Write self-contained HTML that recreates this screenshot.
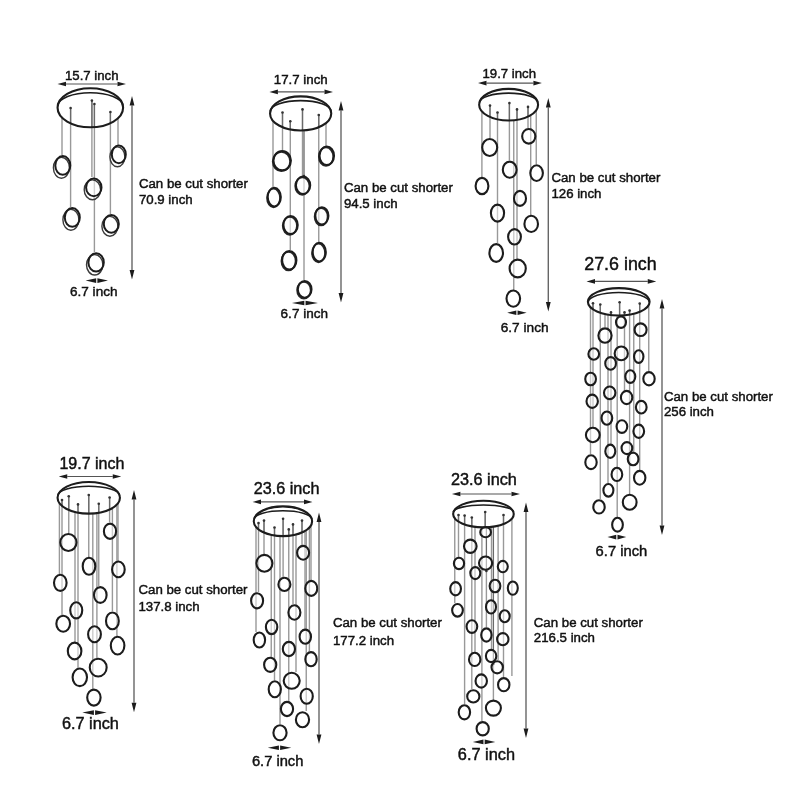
<!DOCTYPE html>
<html><head><meta charset="utf-8"><style>
html,body{margin:0;padding:0;background:#fff;}
svg{display:block;will-change:transform;}
text{font-family:"Liberation Sans", sans-serif;fill:#111;stroke:#111;stroke-width:0.45px;}
</style></head><body>
<svg width="800" height="800" viewBox="0 0 800 800">
<rect width="800" height="800" fill="#fff"/>
<g><line x1="62" y1="117.97" x2="62" y2="155" stroke="#999999" stroke-width="1.4"/><line x1="70.6" y1="108" x2="70.6" y2="207" stroke="#999999" stroke-width="1.4"/><line x1="70.6" y1="108" x2="70.6" y2="123.29" stroke="#6a6a6a" stroke-width="1.3"/><circle cx="70.6" cy="108" r="1.3" fill="#333"/><line x1="91.9" y1="100.6" x2="91.9" y2="177" stroke="#999999" stroke-width="1.4"/><line x1="91.9" y1="100.6" x2="91.9" y2="126.98" stroke="#6a6a6a" stroke-width="1.3"/><circle cx="91.9" cy="100.6" r="1.3" fill="#333"/><line x1="94.4" y1="104" x2="94.4" y2="252" stroke="#999999" stroke-width="1.4"/><line x1="94.4" y1="104" x2="94.4" y2="126.86" stroke="#6a6a6a" stroke-width="1.3"/><circle cx="94.4" cy="104" r="1.3" fill="#333"/><line x1="110.4" y1="112" x2="110.4" y2="214" stroke="#999999" stroke-width="1.4"/><line x1="110.4" y1="112" x2="110.4" y2="123.14" stroke="#6a6a6a" stroke-width="1.3"/><circle cx="110.4" cy="112" r="1.3" fill="#333"/><line x1="118" y1="118.54" x2="118" y2="145" stroke="#999999" stroke-width="1.4"/><ellipse cx="90.33" cy="107.75" rx="32.77" ry="19.5" fill="none" stroke="#1c1c1c" stroke-width="2.1"/><path d="M57.85,105.75 A32.48,13.2 0 0 1 122.8,105.75" fill="none" stroke="#1c1c1c" stroke-width="1.6"/><ellipse cx="61.4" cy="167.8" rx="8" ry="10.4" fill="#fff" fill-opacity="0.55" stroke="#3a3a3a" stroke-width="1.4"/><ellipse cx="62.8" cy="165.4" rx="7.5" ry="9.4" fill="none" stroke="#1c1c1c" stroke-width="2.0"/><ellipse cx="117.4" cy="156.8" rx="7.5" ry="9.9" fill="#fff" fill-opacity="0.55" stroke="#3a3a3a" stroke-width="1.4"/><ellipse cx="118.8" cy="154.4" rx="7" ry="8.9" fill="none" stroke="#1c1c1c" stroke-width="2.0"/><ellipse cx="92.4" cy="189.8" rx="8.2" ry="9.9" fill="#fff" fill-opacity="0.55" stroke="#3a3a3a" stroke-width="1.4"/><ellipse cx="93.8" cy="187.4" rx="7.7" ry="8.9" fill="none" stroke="#1c1c1c" stroke-width="2.0"/><ellipse cx="70.9" cy="219.8" rx="8" ry="10.4" fill="#fff" fill-opacity="0.55" stroke="#3a3a3a" stroke-width="1.4"/><ellipse cx="72.3" cy="217.4" rx="7.5" ry="9.4" fill="none" stroke="#1c1c1c" stroke-width="2.0"/><ellipse cx="109.9" cy="226.3" rx="8" ry="9.9" fill="#fff" fill-opacity="0.55" stroke="#3a3a3a" stroke-width="1.4"/><ellipse cx="111.3" cy="223.9" rx="7.5" ry="8.9" fill="none" stroke="#1c1c1c" stroke-width="2.0"/><ellipse cx="94.7" cy="264.8" rx="8.2" ry="10.2" fill="#fff" fill-opacity="0.55" stroke="#3a3a3a" stroke-width="1.4"/><ellipse cx="96.1" cy="262.4" rx="7.7" ry="9.2" fill="none" stroke="#1c1c1c" stroke-width="2.0"/><line x1="66" y1="84" x2="117.5" y2="84" stroke="#555" stroke-width="1.2"/><path d="M57.5,84 L66,81.7 L66,86.3Z M126,84 L117.5,81.7 L117.5,86.3Z" fill="#1c1c1c"/><text x="65" y="80" font-size="13.2" textLength="53.5" lengthAdjust="spacingAndGlyphs">15.7 inch</text><line x1="132" y1="105.5" x2="132" y2="269.9" stroke="#666" stroke-width="1.4"/><path d="M132,96 L129.6,105.5 L134.4,105.5Z M132,279.4 L129.6,269.9 L134.4,269.9Z" fill="#1c1c1c"/><text x="138.9" y="188" font-size="13.25">Can be cut shorter</text><text x="138.9" y="203.9" font-size="13.25">70.9 inch</text><path d="M85.6,280.6 L96.2,278.3 L96.2,282.9Z M108,280.6 L97.4,278.3 L97.4,282.9Z" fill="#1c1c1c"/><text x="70" y="295.6" font-size="13.56" textLength="47.5" lengthAdjust="spacingAndGlyphs">6.7 inch</text></g>
<g><line x1="273" y1="121.3" x2="273" y2="187" stroke="#999999" stroke-width="1.4"/><line x1="282.5" y1="112.5" x2="282.5" y2="150" stroke="#999999" stroke-width="1.4"/><line x1="282.5" y1="112.5" x2="282.5" y2="127.17" stroke="#6a6a6a" stroke-width="1.3"/><circle cx="282.5" cy="112.5" r="1.3" fill="#333"/><line x1="290.3" y1="121.25" x2="290.3" y2="250" stroke="#999999" stroke-width="1.4"/><line x1="290.3" y1="121.25" x2="290.3" y2="129.35" stroke="#6a6a6a" stroke-width="1.3"/><circle cx="290.3" cy="121.25" r="1.3" fill="#333"/><line x1="302.5" y1="109.4" x2="302.5" y2="176" stroke="#999999" stroke-width="1.4"/><line x1="302.5" y1="109.4" x2="302.5" y2="130.27" stroke="#6a6a6a" stroke-width="1.3"/><circle cx="302.5" cy="109.4" r="1.3" fill="#333"/><line x1="304" y1="176" x2="304" y2="280" stroke="#999999" stroke-width="1.4"/><line x1="304" y1="176" x2="304" y2="130.2" stroke="#6a6a6a" stroke-width="1.3"/><circle cx="304" cy="176" r="1.3" fill="#333"/><line x1="318.75" y1="115" x2="318.75" y2="242" stroke="#999999" stroke-width="1.4"/><line x1="318.75" y1="115" x2="318.75" y2="127.19" stroke="#6a6a6a" stroke-width="1.3"/><circle cx="318.75" cy="115" r="1.3" fill="#333"/><line x1="326" y1="123.3" x2="326" y2="146" stroke="#999999" stroke-width="1.4"/><ellipse cx="300.65" cy="113.45" rx="30.6" ry="17.1" fill="none" stroke="#1c1c1c" stroke-width="2.1"/><path d="M270.35,111.45 A30.3,10.8 0 0 1 330.95,111.45" fill="none" stroke="#1c1c1c" stroke-width="1.6"/><ellipse cx="281.4" cy="161.5" rx="8.7" ry="9.7" fill="#fff" fill-opacity="0.55" stroke="#2a2a2a" stroke-width="1.7"/><ellipse cx="282.2" cy="160.6" rx="8.75" ry="9.7" fill="none" stroke="#1c1c1c" stroke-width="2.0"/><ellipse cx="326" cy="156.7" rx="7.2" ry="9.3" fill="#fff" fill-opacity="0.55" stroke="#2a2a2a" stroke-width="1.7"/><ellipse cx="326.8" cy="155.8" rx="7.25" ry="9.3" fill="none" stroke="#1c1c1c" stroke-width="2.0"/><ellipse cx="302.3" cy="186.1" rx="7.1" ry="8.7" fill="#fff" fill-opacity="0.55" stroke="#2a2a2a" stroke-width="1.7"/><ellipse cx="303.1" cy="185.2" rx="7.15" ry="8.7" fill="none" stroke="#1c1c1c" stroke-width="2.0"/><ellipse cx="273.5" cy="198" rx="6.5" ry="9.3" fill="#fff" fill-opacity="0.55" stroke="#2a2a2a" stroke-width="1.7"/><ellipse cx="274.3" cy="197.1" rx="6.55" ry="9.3" fill="none" stroke="#1c1c1c" stroke-width="2.0"/><ellipse cx="321.1" cy="216.75" rx="6.5" ry="8.7" fill="#fff" fill-opacity="0.55" stroke="#2a2a2a" stroke-width="1.7"/><ellipse cx="321.9" cy="215.85" rx="6.55" ry="8.7" fill="none" stroke="#1c1c1c" stroke-width="2.0"/><ellipse cx="289.8" cy="225.8" rx="7.1" ry="9" fill="#fff" fill-opacity="0.55" stroke="#2a2a2a" stroke-width="1.7"/><ellipse cx="290.6" cy="224.9" rx="7.15" ry="9" fill="none" stroke="#1c1c1c" stroke-width="2.0"/><ellipse cx="288.5" cy="261.1" rx="7.1" ry="9.3" fill="#fff" fill-opacity="0.55" stroke="#2a2a2a" stroke-width="1.7"/><ellipse cx="289.3" cy="260.2" rx="7.15" ry="9.3" fill="none" stroke="#1c1c1c" stroke-width="2.0"/><ellipse cx="318.5" cy="253" rx="6.5" ry="9.3" fill="#fff" fill-opacity="0.55" stroke="#2a2a2a" stroke-width="1.7"/><ellipse cx="319.3" cy="252.1" rx="6.55" ry="9.3" fill="none" stroke="#1c1c1c" stroke-width="2.0"/><ellipse cx="303.9" cy="290.2" rx="6.8" ry="8.4" fill="#fff" fill-opacity="0.55" stroke="#2a2a2a" stroke-width="1.7"/><ellipse cx="304.7" cy="289.3" rx="6.85" ry="8.4" fill="none" stroke="#1c1c1c" stroke-width="2.0"/><line x1="277.9" y1="91.9" x2="324.5" y2="91.9" stroke="#555" stroke-width="1.2"/><path d="M269.4,91.9 L277.9,89.6 L277.9,94.2Z M333,91.9 L324.5,89.6 L324.5,94.2Z" fill="#1c1c1c"/><text x="273.75" y="84.4" font-size="13.2" textLength="54" lengthAdjust="spacingAndGlyphs">17.7 inch</text><line x1="341" y1="110.5" x2="341" y2="293" stroke="#666" stroke-width="1.4"/><path d="M341,101 L338.6,110.5 L343.4,110.5Z M341,302.5 L338.6,293 L343.4,293Z" fill="#1c1c1c"/><text x="343.9" y="192.3" font-size="13.25">Can be cut shorter</text><text x="343.9" y="208.1" font-size="13.25">94.5 inch</text><path d="M291.9,303 L304.35,300.7 L304.35,305.3Z M318,303 L305.55,300.7 L305.55,305.3Z" fill="#1c1c1c"/><text x="280.6" y="318" font-size="13.54" textLength="47.4" lengthAdjust="spacingAndGlyphs">6.7 inch</text></g>
<g><line x1="481.9" y1="111.86" x2="481.9" y2="177" stroke="#999999" stroke-width="1.4"/><line x1="490" y1="105.6" x2="490" y2="138" stroke="#999999" stroke-width="1.4"/><line x1="490" y1="105.6" x2="490" y2="116.92" stroke="#6a6a6a" stroke-width="1.3"/><circle cx="490" cy="105.6" r="1.3" fill="#333"/><line x1="497.5" y1="112.5" x2="497.5" y2="243" stroke="#999999" stroke-width="1.4"/><line x1="497.5" y1="112.5" x2="497.5" y2="119.15" stroke="#6a6a6a" stroke-width="1.3"/><circle cx="497.5" cy="112.5" r="1.3" fill="#333"/><line x1="509.4" y1="103.1" x2="509.4" y2="160" stroke="#999999" stroke-width="1.4"/><line x1="509.4" y1="103.1" x2="509.4" y2="120.24" stroke="#6a6a6a" stroke-width="1.3"/><circle cx="509.4" cy="103.1" r="1.3" fill="#333"/><line x1="513.75" y1="120.02" x2="513.75" y2="290" stroke="#999999" stroke-width="1.4"/><line x1="517" y1="109.4" x2="517" y2="259" stroke="#999999" stroke-width="1.4"/><line x1="517" y1="109.4" x2="517" y2="119.64" stroke="#6a6a6a" stroke-width="1.3"/><circle cx="517" cy="109.4" r="1.3" fill="#333"/><line x1="528" y1="106.9" x2="528" y2="128" stroke="#999999" stroke-width="1.4"/><line x1="528" y1="106.9" x2="528" y2="116.6" stroke="#6a6a6a" stroke-width="1.3"/><circle cx="528" cy="106.9" r="1.3" fill="#333"/><line x1="530.7" y1="115.27" x2="530.7" y2="215" stroke="#999999" stroke-width="1.4"/><line x1="536.25" y1="110.89" x2="536.25" y2="164" stroke="#999999" stroke-width="1.4"/><ellipse cx="508.62" cy="104.67" rx="29.47" ry="15.83" fill="none" stroke="#1c1c1c" stroke-width="2.1"/><path d="M479.45,102.67 A29.17,9.53 0 0 1 537.8,102.67" fill="none" stroke="#1c1c1c" stroke-width="1.6"/><ellipse cx="528.75" cy="136.3" rx="6.6" ry="7.3" fill="#fff" fill-opacity="0.5" stroke="#1c1c1c" stroke-width="2.1"/><ellipse cx="489.7" cy="147.5" rx="7.5" ry="8.5" fill="#fff" fill-opacity="0.5" stroke="#1c1c1c" stroke-width="2.1"/><ellipse cx="509.7" cy="169.7" rx="6.9" ry="8.1" fill="#fff" fill-opacity="0.5" stroke="#1c1c1c" stroke-width="2.1"/><ellipse cx="536.6" cy="173.1" rx="6.3" ry="7.85" fill="#fff" fill-opacity="0.5" stroke="#1c1c1c" stroke-width="2.1"/><ellipse cx="482" cy="186" rx="6.4" ry="8.1" fill="#fff" fill-opacity="0.5" stroke="#1c1c1c" stroke-width="2.1"/><ellipse cx="520" cy="198.4" rx="6" ry="7.5" fill="#fff" fill-opacity="0.5" stroke="#1c1c1c" stroke-width="2.1"/><ellipse cx="497.5" cy="213.1" rx="6.6" ry="8.5" fill="#fff" fill-opacity="0.5" stroke="#1c1c1c" stroke-width="2.1"/><ellipse cx="531.2" cy="223.9" rx="6.8" ry="8.1" fill="#fff" fill-opacity="0.5" stroke="#1c1c1c" stroke-width="2.1"/><ellipse cx="514.5" cy="236.8" rx="6.4" ry="7.7" fill="#fff" fill-opacity="0.5" stroke="#1c1c1c" stroke-width="2.1"/><ellipse cx="496.2" cy="253" rx="6.8" ry="8.85" fill="#fff" fill-opacity="0.5" stroke="#1c1c1c" stroke-width="2.1"/><ellipse cx="517.7" cy="268.5" rx="8.1" ry="8.85" fill="#fff" fill-opacity="0.5" stroke="#1c1c1c" stroke-width="2.1"/><ellipse cx="513.3" cy="298.6" rx="6.8" ry="8.1" fill="#fff" fill-opacity="0.5" stroke="#1c1c1c" stroke-width="2.1"/><line x1="486.5" y1="83.1" x2="533.4" y2="83.1" stroke="#555" stroke-width="1.2"/><path d="M478,83.1 L486.5,80.8 L486.5,85.4Z M541.9,83.1 L533.4,80.8 L533.4,85.4Z" fill="#1c1c1c"/><text x="482.5" y="78.1" font-size="13.2" textLength="53.5" lengthAdjust="spacingAndGlyphs">19.7 inch</text><line x1="548.3" y1="107.5" x2="548.3" y2="302.1" stroke="#666" stroke-width="1.4"/><path d="M548.3,98 L545.9,107.5 L550.7,107.5Z M548.3,311.6 L545.9,302.1 L550.7,302.1Z" fill="#1c1c1c"/><text x="551.4" y="182.3" font-size="13.25">Can be cut shorter</text><text x="551.4" y="197.8" font-size="13.25">126 inch</text><path d="M507.2,312.8 L516.35,310.5 L516.35,315.1Z M526.7,312.8 L517.55,310.5 L517.55,315.1Z" fill="#1c1c1c"/><text x="500.7" y="331.6" font-size="13.68" textLength="47.9" lengthAdjust="spacingAndGlyphs">6.7 inch</text></g>
<g><line x1="590.5" y1="307.76" x2="590.5" y2="454" stroke="#999999" stroke-width="1.4"/><line x1="593" y1="303.2" x2="593" y2="427" stroke="#999999" stroke-width="1.4"/><line x1="593" y1="303.2" x2="593" y2="309.56" stroke="#6a6a6a" stroke-width="1.3"/><circle cx="593" cy="303.2" r="1.3" fill="#333"/><line x1="600.3" y1="304.5" x2="600.3" y2="499" stroke="#999999" stroke-width="1.4"/><line x1="600.3" y1="304.5" x2="600.3" y2="312.71" stroke="#6a6a6a" stroke-width="1.3"/><circle cx="600.3" cy="304.5" r="1.3" fill="#333"/><line x1="605" y1="313.9" x2="605" y2="327" stroke="#999999" stroke-width="1.4"/><line x1="608" y1="314.44" x2="608" y2="483" stroke="#999999" stroke-width="1.4"/><line x1="611" y1="312.4" x2="611" y2="444" stroke="#999999" stroke-width="1.4"/><line x1="611" y1="312.4" x2="611" y2="314.84" stroke="#6a6a6a" stroke-width="1.3"/><circle cx="611" cy="312.4" r="1.3" fill="#333"/><line x1="617.2" y1="315.23" x2="617.2" y2="517" stroke="#999999" stroke-width="1.4"/><line x1="619.6" y1="302.3" x2="619.6" y2="315" stroke="#999999" stroke-width="1.4"/><line x1="619.6" y1="302.3" x2="619.6" y2="315.25" stroke="#6a6a6a" stroke-width="1.3"/><circle cx="619.6" cy="302.3" r="1.3" fill="#333"/><line x1="624.5" y1="312.4" x2="624.5" y2="390" stroke="#999999" stroke-width="1.4"/><line x1="624.5" y1="312.4" x2="624.5" y2="315.02" stroke="#6a6a6a" stroke-width="1.3"/><circle cx="624.5" cy="312.4" r="1.3" fill="#333"/><line x1="629.6" y1="310.6" x2="629.6" y2="494" stroke="#999999" stroke-width="1.4"/><line x1="629.6" y1="310.6" x2="629.6" y2="314.43" stroke="#6a6a6a" stroke-width="1.3"/><circle cx="629.6" cy="310.6" r="1.3" fill="#333"/><line x1="633.75" y1="313.63" x2="633.75" y2="452" stroke="#999999" stroke-width="1.4"/><line x1="639.7" y1="303.6" x2="639.7" y2="470" stroke="#999999" stroke-width="1.4"/><line x1="639.7" y1="303.6" x2="639.7" y2="311.85" stroke="#6a6a6a" stroke-width="1.3"/><circle cx="639.7" cy="303.6" r="1.3" fill="#333"/><line x1="648.75" y1="305.92" x2="648.75" y2="371" stroke="#999999" stroke-width="1.4"/><ellipse cx="618.75" cy="301.82" rx="30.85" ry="13.68" fill="none" stroke="#1c1c1c" stroke-width="2.1"/><path d="M588.2,302.32 A30.55,9.88 0 0 1 649.3,302.32" fill="none" stroke="#1c1c1c" stroke-width="1.6"/><ellipse cx="621" cy="322.2" rx="5" ry="5.7" fill="#fff" fill-opacity="0.5" stroke="#1c1c1c" stroke-width="2.1"/><ellipse cx="640.6" cy="329.7" rx="6" ry="6.3" fill="#fff" fill-opacity="0.5" stroke="#1c1c1c" stroke-width="2.1"/><ellipse cx="605" cy="335.6" rx="6.6" ry="7.2" fill="#fff" fill-opacity="0.5" stroke="#1c1c1c" stroke-width="2.1"/><ellipse cx="621.25" cy="353.4" rx="6.6" ry="6.9" fill="#fff" fill-opacity="0.5" stroke="#1c1c1c" stroke-width="2.1"/><ellipse cx="593.75" cy="354" rx="5.35" ry="5.7" fill="#fff" fill-opacity="0.5" stroke="#1c1c1c" stroke-width="2.1"/><ellipse cx="638.75" cy="356.6" rx="4.7" ry="6.3" fill="#fff" fill-opacity="0.5" stroke="#1c1c1c" stroke-width="2.1"/><ellipse cx="610.6" cy="363.4" rx="5.35" ry="6.3" fill="#fff" fill-opacity="0.5" stroke="#1c1c1c" stroke-width="2.1"/><ellipse cx="630.3" cy="376.6" rx="5" ry="6.3" fill="#fff" fill-opacity="0.5" stroke="#1c1c1c" stroke-width="2.1"/><ellipse cx="649" cy="378.75" rx="5.7" ry="6.6" fill="#fff" fill-opacity="0.5" stroke="#1c1c1c" stroke-width="2.1"/><ellipse cx="590.6" cy="379" rx="5.35" ry="6.3" fill="#fff" fill-opacity="0.5" stroke="#1c1c1c" stroke-width="2.1"/><ellipse cx="609.7" cy="392.8" rx="5.7" ry="6.3" fill="#fff" fill-opacity="0.5" stroke="#1c1c1c" stroke-width="2.1"/><ellipse cx="626.6" cy="397.5" rx="5.7" ry="6.6" fill="#fff" fill-opacity="0.5" stroke="#1c1c1c" stroke-width="2.1"/><ellipse cx="592.2" cy="401.25" rx="5.7" ry="6.6" fill="#fff" fill-opacity="0.5" stroke="#1c1c1c" stroke-width="2.1"/><ellipse cx="641.25" cy="407.2" rx="5.35" ry="6.3" fill="#fff" fill-opacity="0.5" stroke="#1c1c1c" stroke-width="2.1"/><ellipse cx="606.9" cy="418.1" rx="5.35" ry="6.6" fill="#fff" fill-opacity="0.5" stroke="#1c1c1c" stroke-width="2.1"/><ellipse cx="621.9" cy="426.6" rx="5.35" ry="6.3" fill="#fff" fill-opacity="0.5" stroke="#1c1c1c" stroke-width="2.1"/><ellipse cx="638.75" cy="431.25" rx="5.35" ry="6.6" fill="#fff" fill-opacity="0.5" stroke="#1c1c1c" stroke-width="2.1"/><ellipse cx="592.8" cy="435" rx="6.9" ry="7.2" fill="#fff" fill-opacity="0.5" stroke="#1c1c1c" stroke-width="2.1"/><ellipse cx="610.3" cy="451.25" rx="5" ry="6.6" fill="#fff" fill-opacity="0.5" stroke="#1c1c1c" stroke-width="2.1"/><ellipse cx="626.9" cy="448.1" rx="5.35" ry="6" fill="#fff" fill-opacity="0.5" stroke="#1c1c1c" stroke-width="2.1"/><ellipse cx="633.1" cy="459" rx="5.35" ry="6.3" fill="#fff" fill-opacity="0.5" stroke="#1c1c1c" stroke-width="2.1"/><ellipse cx="591" cy="462.2" rx="5.7" ry="6.9" fill="#fff" fill-opacity="0.5" stroke="#1c1c1c" stroke-width="2.1"/><ellipse cx="616.9" cy="474.4" rx="5.35" ry="6.6" fill="#fff" fill-opacity="0.5" stroke="#1c1c1c" stroke-width="2.1"/><ellipse cx="639.7" cy="477.8" rx="5.7" ry="6.9" fill="#fff" fill-opacity="0.5" stroke="#1c1c1c" stroke-width="2.1"/><ellipse cx="608.4" cy="490.3" rx="5" ry="6.3" fill="#fff" fill-opacity="0.5" stroke="#1c1c1c" stroke-width="2.1"/><ellipse cx="599" cy="506.9" rx="5.7" ry="6.6" fill="#fff" fill-opacity="0.5" stroke="#1c1c1c" stroke-width="2.1"/><ellipse cx="629.7" cy="502.2" rx="6.9" ry="7.5" fill="#fff" fill-opacity="0.5" stroke="#1c1c1c" stroke-width="2.1"/><ellipse cx="617.5" cy="524.7" rx="5.35" ry="6.9" fill="#fff" fill-opacity="0.5" stroke="#1c1c1c" stroke-width="2.1"/><line x1="595" y1="281.4" x2="647.75" y2="281.4" stroke="#555" stroke-width="1.2"/><path d="M586.5,281.4 L595,279.1 L595,283.7Z M656.25,281.4 L647.75,279.1 L647.75,283.7Z" fill="#1c1c1c"/><text x="584.25" y="269.75" font-size="17.5" textLength="72.45" lengthAdjust="spacingAndGlyphs">27.6 inch</text><line x1="662" y1="308.5" x2="662" y2="525.5" stroke="#666" stroke-width="1.4"/><path d="M662,299 L659.6,308.5 L664.4,308.5Z M662,535 L659.6,525.5 L664.4,525.5Z" fill="#1c1c1c"/><text x="663.9" y="400.7" font-size="13.25">Can be cut shorter</text><text x="663.9" y="416.15" font-size="13.25">256 inch</text><path d="M607.5,537.1 L616.27,534.8 L616.27,539.4Z M626.25,537.1 L617.48,534.8 L617.48,539.4Z" fill="#1c1c1c"/><text x="595.6" y="556.25" font-size="14.75" textLength="51.65" lengthAdjust="spacingAndGlyphs">6.7 inch</text></g>
<g><line x1="59.4" y1="503.87" x2="59.4" y2="574" stroke="#999999" stroke-width="1.4"/><line x1="62" y1="500" x2="62" y2="615" stroke="#999999" stroke-width="1.4"/><line x1="62" y1="500" x2="62" y2="506.28" stroke="#6a6a6a" stroke-width="1.3"/><circle cx="62" cy="500" r="1.3" fill="#333"/><line x1="68.75" y1="496.25" x2="68.75" y2="533" stroke="#999999" stroke-width="1.4"/><line x1="68.75" y1="496.25" x2="68.75" y2="509.95" stroke="#6a6a6a" stroke-width="1.3"/><circle cx="68.75" cy="496.25" r="1.3" fill="#333"/><line x1="75" y1="511.87" x2="75" y2="642" stroke="#999999" stroke-width="1.4"/><line x1="78" y1="504.4" x2="78" y2="668" stroke="#999999" stroke-width="1.4"/><line x1="78" y1="504.4" x2="78" y2="512.49" stroke="#6a6a6a" stroke-width="1.3"/><circle cx="78" cy="504.4" r="1.3" fill="#333"/><line x1="88.75" y1="495" x2="88.75" y2="557" stroke="#999999" stroke-width="1.4"/><line x1="88.75" y1="495" x2="88.75" y2="513.4" stroke="#6a6a6a" stroke-width="1.3"/><circle cx="88.75" cy="495" r="1.3" fill="#333"/><line x1="92.8" y1="513.27" x2="92.8" y2="689" stroke="#999999" stroke-width="1.4"/><line x1="96.9" y1="512.88" x2="96.9" y2="658" stroke="#999999" stroke-width="1.4"/><line x1="98.75" y1="503.75" x2="98.75" y2="586" stroke="#999999" stroke-width="1.4"/><line x1="98.75" y1="503.75" x2="98.75" y2="512.61" stroke="#6a6a6a" stroke-width="1.3"/><circle cx="98.75" cy="503.75" r="1.3" fill="#333"/><line x1="109.6" y1="497.5" x2="109.6" y2="522" stroke="#999999" stroke-width="1.4"/><line x1="109.6" y1="497.5" x2="109.6" y2="509.6" stroke="#6a6a6a" stroke-width="1.3"/><circle cx="109.6" cy="497.5" r="1.3" fill="#333"/><line x1="112.4" y1="508.26" x2="112.4" y2="611" stroke="#999999" stroke-width="1.4"/><line x1="116.9" y1="505.11" x2="116.9" y2="636" stroke="#999999" stroke-width="1.4"/><line x1="118" y1="503.99" x2="118" y2="561" stroke="#999999" stroke-width="1.4"/><ellipse cx="88.75" cy="497.82" rx="31.2" ry="15.82" fill="none" stroke="#1c1c1c" stroke-width="2.1"/><path d="M57.85,495.82 A30.9,9.52 0 0 1 119.65,495.82" fill="none" stroke="#1c1c1c" stroke-width="1.6"/><ellipse cx="110" cy="531.25" rx="6.1" ry="7.6" fill="#fff" fill-opacity="0.5" stroke="#1c1c1c" stroke-width="2.1"/><ellipse cx="68.4" cy="542.5" rx="8.1" ry="8.5" fill="#fff" fill-opacity="0.5" stroke="#1c1c1c" stroke-width="2.1"/><ellipse cx="89" cy="566.25" rx="6.3" ry="8.5" fill="#fff" fill-opacity="0.5" stroke="#1c1c1c" stroke-width="2.1"/><ellipse cx="118.4" cy="569.4" rx="6.3" ry="7.85" fill="#fff" fill-opacity="0.5" stroke="#1c1c1c" stroke-width="2.1"/><ellipse cx="60.3" cy="582.8" rx="6.3" ry="8.1" fill="#fff" fill-opacity="0.5" stroke="#1c1c1c" stroke-width="2.1"/><ellipse cx="100.3" cy="595" rx="6.3" ry="7.85" fill="#fff" fill-opacity="0.5" stroke="#1c1c1c" stroke-width="2.1"/><ellipse cx="76.25" cy="610.3" rx="6" ry="8.1" fill="#fff" fill-opacity="0.5" stroke="#1c1c1c" stroke-width="2.1"/><ellipse cx="63.2" cy="623.7" rx="6.85" ry="8" fill="#fff" fill-opacity="0.5" stroke="#1c1c1c" stroke-width="2.1"/><ellipse cx="112.4" cy="620.9" rx="6.4" ry="8.4" fill="#fff" fill-opacity="0.5" stroke="#1c1c1c" stroke-width="2.1"/><ellipse cx="94.5" cy="634.25" rx="6.4" ry="8" fill="#fff" fill-opacity="0.5" stroke="#1c1c1c" stroke-width="2.1"/><ellipse cx="117.6" cy="645.6" rx="6.8" ry="8.85" fill="#fff" fill-opacity="0.5" stroke="#1c1c1c" stroke-width="2.1"/><ellipse cx="74.6" cy="651" rx="6.8" ry="8.4" fill="#fff" fill-opacity="0.5" stroke="#1c1c1c" stroke-width="2.1"/><ellipse cx="98.2" cy="667.6" rx="8.45" ry="8.85" fill="#fff" fill-opacity="0.5" stroke="#1c1c1c" stroke-width="2.1"/><ellipse cx="79.8" cy="677.3" rx="7.2" ry="8.85" fill="#fff" fill-opacity="0.5" stroke="#1c1c1c" stroke-width="2.1"/><ellipse cx="93.9" cy="697.6" rx="6.7" ry="8" fill="#fff" fill-opacity="0.5" stroke="#1c1c1c" stroke-width="2.1"/><line x1="67.25" y1="476.5" x2="112.75" y2="476.5" stroke="#555" stroke-width="1.2"/><path d="M58.75,476.5 L67.25,474.2 L67.25,478.8Z M121.25,476.5 L112.75,474.2 L112.75,478.8Z" fill="#1c1c1c"/><text x="59.4" y="469.4" font-size="16" textLength="65" lengthAdjust="spacingAndGlyphs">19.7 inch</text><line x1="134" y1="499.5" x2="134" y2="702.8" stroke="#666" stroke-width="1.4"/><path d="M134,490 L131.6,499.5 L136.4,499.5Z M134,712.3 L131.6,702.8 L136.4,702.8Z" fill="#1c1c1c"/><text x="138.45" y="594.4" font-size="13.25">Can be cut shorter</text><text x="138.45" y="611" font-size="13.25">137.8 inch</text><path d="M82.3,712.6 L93.9,710.3 L93.9,714.9Z M106.7,712.6 L95.1,710.3 L95.1,714.9Z" fill="#1c1c1c"/><text x="62" y="728.6" font-size="16.25" textLength="56.9" lengthAdjust="spacingAndGlyphs">6.7 inch</text></g>
<g><line x1="256" y1="527.55" x2="256" y2="632" stroke="#999999" stroke-width="1.4"/><line x1="258.5" y1="523.1" x2="258.5" y2="592" stroke="#999999" stroke-width="1.4"/><line x1="258.5" y1="523.1" x2="258.5" y2="529.66" stroke="#6a6a6a" stroke-width="1.3"/><circle cx="258.5" cy="523.1" r="1.3" fill="#333"/><line x1="264" y1="520.6" x2="264" y2="554" stroke="#999999" stroke-width="1.4"/><line x1="264" y1="520.6" x2="264" y2="532.57" stroke="#6a6a6a" stroke-width="1.3"/><circle cx="264" cy="520.6" r="1.3" fill="#333"/><line x1="271.25" y1="534.73" x2="271.25" y2="657" stroke="#999999" stroke-width="1.4"/><line x1="274.5" y1="527.5" x2="274.5" y2="680" stroke="#999999" stroke-width="1.4"/><line x1="274.5" y1="527.5" x2="274.5" y2="535.3" stroke="#6a6a6a" stroke-width="1.3"/><circle cx="274.5" cy="527.5" r="1.3" fill="#333"/><line x1="280" y1="535.83" x2="280" y2="724" stroke="#999999" stroke-width="1.4"/><line x1="283.1" y1="518.75" x2="283.1" y2="577" stroke="#999999" stroke-width="1.4"/><line x1="283.1" y1="518.75" x2="283.1" y2="535.9" stroke="#6a6a6a" stroke-width="1.3"/><circle cx="283.1" cy="518.75" r="1.3" fill="#333"/><line x1="288.75" y1="529.4" x2="288.75" y2="701" stroke="#999999" stroke-width="1.4"/><line x1="288.75" y1="529.4" x2="288.75" y2="535.62" stroke="#6a6a6a" stroke-width="1.3"/><circle cx="288.75" cy="529.4" r="1.3" fill="#333"/><line x1="293" y1="524.4" x2="293" y2="604" stroke="#999999" stroke-width="1.4"/><line x1="293" y1="524.4" x2="293" y2="535.04" stroke="#6a6a6a" stroke-width="1.3"/><circle cx="293" cy="524.4" r="1.3" fill="#333"/><line x1="296" y1="534.42" x2="296" y2="672" stroke="#999999" stroke-width="1.4"/><line x1="302" y1="520.6" x2="302" y2="545" stroke="#999999" stroke-width="1.4"/><line x1="302" y1="520.6" x2="302" y2="532.51" stroke="#6a6a6a" stroke-width="1.3"/><circle cx="302" cy="520.6" r="1.3" fill="#333"/><line x1="305" y1="531.1" x2="305" y2="629" stroke="#999999" stroke-width="1.4"/><line x1="306.25" y1="530.38" x2="306.25" y2="711" stroke="#999999" stroke-width="1.4"/><line x1="309.4" y1="528" x2="309.4" y2="651" stroke="#999999" stroke-width="1.4"/><line x1="311" y1="526.19" x2="311" y2="580" stroke="#999999" stroke-width="1.4"/><ellipse cx="282.93" cy="521.25" rx="29.18" ry="14.9" fill="none" stroke="#1c1c1c" stroke-width="2.1"/><path d="M254.05,519.25 A28.88,8.6 0 0 1 311.8,519.25" fill="none" stroke="#1c1c1c" stroke-width="1.6"/><ellipse cx="303.1" cy="552.8" rx="6" ry="6.9" fill="#fff" fill-opacity="0.5" stroke="#1c1c1c" stroke-width="2.1"/><ellipse cx="264.4" cy="563.3" rx="8" ry="8.4" fill="#fff" fill-opacity="0.5" stroke="#1c1c1c" stroke-width="2.1"/><ellipse cx="284.4" cy="584.4" rx="6" ry="6.6" fill="#fff" fill-opacity="0.5" stroke="#1c1c1c" stroke-width="2.1"/><ellipse cx="311.25" cy="588.4" rx="6" ry="7.5" fill="#fff" fill-opacity="0.5" stroke="#1c1c1c" stroke-width="2.1"/><ellipse cx="257.1" cy="600.8" rx="6" ry="7.6" fill="#fff" fill-opacity="0.5" stroke="#1c1c1c" stroke-width="2.1"/><ellipse cx="294.4" cy="612.5" rx="6" ry="7.2" fill="#fff" fill-opacity="0.5" stroke="#1c1c1c" stroke-width="2.1"/><ellipse cx="271.6" cy="626.9" rx="5.7" ry="7.2" fill="#fff" fill-opacity="0.5" stroke="#1c1c1c" stroke-width="2.1"/><ellipse cx="259.4" cy="640" rx="5.7" ry="7.5" fill="#fff" fill-opacity="0.5" stroke="#1c1c1c" stroke-width="2.1"/><ellipse cx="305.3" cy="636.7" rx="5.7" ry="7.1" fill="#fff" fill-opacity="0.5" stroke="#1c1c1c" stroke-width="2.1"/><ellipse cx="288.9" cy="649" rx="6.1" ry="7.1" fill="#fff" fill-opacity="0.5" stroke="#1c1c1c" stroke-width="2.1"/><ellipse cx="311" cy="659.2" rx="5.7" ry="7.1" fill="#fff" fill-opacity="0.5" stroke="#1c1c1c" stroke-width="2.1"/><ellipse cx="270.2" cy="664.8" rx="6.1" ry="7.1" fill="#fff" fill-opacity="0.5" stroke="#1c1c1c" stroke-width="2.1"/><ellipse cx="291.7" cy="680.8" rx="8" ry="8" fill="#fff" fill-opacity="0.5" stroke="#1c1c1c" stroke-width="2.1"/><ellipse cx="274.8" cy="689.2" rx="6.1" ry="8" fill="#fff" fill-opacity="0.5" stroke="#1c1c1c" stroke-width="2.1"/><ellipse cx="306.7" cy="696.25" rx="6.1" ry="7.5" fill="#fff" fill-opacity="0.5" stroke="#1c1c1c" stroke-width="2.1"/><ellipse cx="287" cy="709" rx="6.1" ry="7.1" fill="#fff" fill-opacity="0.5" stroke="#1c1c1c" stroke-width="2.1"/><ellipse cx="302.5" cy="719.7" rx="6.6" ry="7.5" fill="#fff" fill-opacity="0.5" stroke="#1c1c1c" stroke-width="2.1"/><ellipse cx="280" cy="732.8" rx="6.6" ry="7.5" fill="#fff" fill-opacity="0.5" stroke="#1c1c1c" stroke-width="2.1"/><line x1="261" y1="501.9" x2="304" y2="501.9" stroke="#555" stroke-width="1.2"/><path d="M252.5,501.9 L261,499.6 L261,504.2Z M312.5,501.9 L304,499.6 L304,504.2Z" fill="#1c1c1c"/><text x="253.75" y="493.75" font-size="16.2" textLength="65.65" lengthAdjust="spacingAndGlyphs">23.6 inch</text><line x1="319" y1="522" x2="319" y2="734.5" stroke="#666" stroke-width="1.4"/><path d="M319,512.5 L316.6,522 L321.4,522Z M319,744 L316.6,734.5 L321.4,734.5Z" fill="#1c1c1c"/><text x="332.9" y="627.2" font-size="13.25">Can be cut shorter</text><text x="332.9" y="644.6" font-size="13.25">177.2 inch</text><path d="M267.8,747.8 L278.92,745.5 L278.92,750.1Z M291.25,747.8 L280.12,745.5 L280.12,750.1Z" fill="#1c1c1c"/><text x="251.9" y="765.6" font-size="14.71" textLength="51.5" lengthAdjust="spacingAndGlyphs">6.7 inch</text></g>
<g><line x1="454.75" y1="518.93" x2="454.75" y2="603" stroke="#999999" stroke-width="1.4"/><line x1="458.5" y1="515" x2="458.5" y2="557" stroke="#999999" stroke-width="1.4"/><line x1="458.5" y1="515" x2="458.5" y2="521.77" stroke="#6a6a6a" stroke-width="1.3"/><circle cx="458.5" cy="515" r="1.3" fill="#333"/><line x1="464.6" y1="515.6" x2="464.6" y2="704" stroke="#999999" stroke-width="1.4"/><line x1="464.6" y1="515.6" x2="464.6" y2="524.4" stroke="#6a6a6a" stroke-width="1.3"/><circle cx="464.6" cy="515.6" r="1.3" fill="#333"/><line x1="471.8" y1="517.5" x2="471.8" y2="689" stroke="#999999" stroke-width="1.4"/><line x1="471.8" y1="517.5" x2="471.8" y2="526.14" stroke="#6a6a6a" stroke-width="1.3"/><circle cx="471.8" cy="517.5" r="1.3" fill="#333"/><line x1="475" y1="526.6" x2="475" y2="652" stroke="#999999" stroke-width="1.4"/><line x1="481.9" y1="527.08" x2="481.9" y2="721" stroke="#999999" stroke-width="1.4"/><line x1="485.2" y1="512" x2="485.2" y2="526" stroke="#999999" stroke-width="1.4"/><line x1="485.2" y1="512" x2="485.2" y2="527.08" stroke="#6a6a6a" stroke-width="1.3"/><circle cx="485.2" cy="512" r="1.3" fill="#333"/><line x1="486.4" y1="571" x2="486.4" y2="627" stroke="#999999" stroke-width="1.4"/><line x1="486.4" y1="571" x2="486.4" y2="527.04" stroke="#6a6a6a" stroke-width="1.3"/><circle cx="486.4" cy="571" r="1.3" fill="#333"/><line x1="491.5" y1="526.65" x2="491.5" y2="649" stroke="#999999" stroke-width="1.4"/><line x1="493.4" y1="664" x2="493.4" y2="700" stroke="#999999" stroke-width="1.4"/><line x1="493.4" y1="664" x2="493.4" y2="526.41" stroke="#6a6a6a" stroke-width="1.3"/><circle cx="493.4" cy="664" r="1.3" fill="#333"/><line x1="498.1" y1="525.55" x2="498.1" y2="660" stroke="#999999" stroke-width="1.4"/><line x1="503.5" y1="515" x2="503.5" y2="677" stroke="#999999" stroke-width="1.4"/><line x1="503.5" y1="515" x2="503.5" y2="523.99" stroke="#6a6a6a" stroke-width="1.3"/><circle cx="503.5" cy="515" r="1.3" fill="#333"/><line x1="511.9" y1="519.19" x2="511.9" y2="676" stroke="#999999" stroke-width="1.4"/><ellipse cx="483.45" cy="514.05" rx="30.3" ry="13.3" fill="none" stroke="#1c1c1c" stroke-width="2.1"/><path d="M453.45,512.05 A30,7 0 0 1 513.45,512.05" fill="none" stroke="#1c1c1c" stroke-width="1.6"/><ellipse cx="485.6" cy="532.2" rx="5.35" ry="5.1" fill="#fff" fill-opacity="0.5" stroke="#1c1c1c" stroke-width="2.1"/><ellipse cx="470.3" cy="546.25" rx="6.3" ry="6.6" fill="#fff" fill-opacity="0.5" stroke="#1c1c1c" stroke-width="2.1"/><ellipse cx="459" cy="563.4" rx="5.1" ry="5.7" fill="#fff" fill-opacity="0.5" stroke="#1c1c1c" stroke-width="2.1"/><ellipse cx="485.6" cy="563.1" rx="6.6" ry="6.6" fill="#fff" fill-opacity="0.5" stroke="#1c1c1c" stroke-width="2.1"/><ellipse cx="475.3" cy="573.1" rx="5" ry="6" fill="#fff" fill-opacity="0.5" stroke="#1c1c1c" stroke-width="2.1"/><ellipse cx="502.8" cy="566.6" rx="5" ry="5.7" fill="#fff" fill-opacity="0.5" stroke="#1c1c1c" stroke-width="2.1"/><ellipse cx="455.6" cy="588.75" rx="5.35" ry="6.6" fill="#fff" fill-opacity="0.5" stroke="#1c1c1c" stroke-width="2.1"/><ellipse cx="495" cy="586" rx="5.35" ry="6.3" fill="#fff" fill-opacity="0.5" stroke="#1c1c1c" stroke-width="2.1"/><ellipse cx="512.8" cy="588.1" rx="5" ry="6.6" fill="#fff" fill-opacity="0.5" stroke="#1c1c1c" stroke-width="2.1"/><ellipse cx="457.5" cy="610.3" rx="5.35" ry="6.3" fill="#fff" fill-opacity="0.5" stroke="#1c1c1c" stroke-width="2.1"/><ellipse cx="491" cy="606.9" rx="5" ry="6.6" fill="#fff" fill-opacity="0.5" stroke="#1c1c1c" stroke-width="2.1"/><ellipse cx="504.7" cy="616.25" rx="5" ry="6" fill="#fff" fill-opacity="0.5" stroke="#1c1c1c" stroke-width="2.1"/><ellipse cx="471.9" cy="626.6" rx="5.35" ry="6.3" fill="#fff" fill-opacity="0.5" stroke="#1c1c1c" stroke-width="2.1"/><ellipse cx="486.4" cy="635" rx="5.2" ry="6.6" fill="#fff" fill-opacity="0.5" stroke="#1c1c1c" stroke-width="2.1"/><ellipse cx="502.8" cy="639.2" rx="5.7" ry="6.1" fill="#fff" fill-opacity="0.5" stroke="#1c1c1c" stroke-width="2.1"/><ellipse cx="474.7" cy="659.4" rx="5.7" ry="6.6" fill="#fff" fill-opacity="0.5" stroke="#1c1c1c" stroke-width="2.1"/><ellipse cx="491.1" cy="656" rx="5.2" ry="6.1" fill="#fff" fill-opacity="0.5" stroke="#1c1c1c" stroke-width="2.1"/><ellipse cx="497.2" cy="667.3" rx="5.7" ry="6.1" fill="#fff" fill-opacity="0.5" stroke="#1c1c1c" stroke-width="2.1"/><ellipse cx="481.25" cy="681" rx="5.7" ry="6.6" fill="#fff" fill-opacity="0.5" stroke="#1c1c1c" stroke-width="2.1"/><ellipse cx="503.75" cy="684.7" rx="5.7" ry="6.6" fill="#fff" fill-opacity="0.5" stroke="#1c1c1c" stroke-width="2.1"/><ellipse cx="473.3" cy="696.4" rx="6.1" ry="6.1" fill="#fff" fill-opacity="0.5" stroke="#1c1c1c" stroke-width="2.1"/><ellipse cx="464.4" cy="712.3" rx="5.7" ry="7.1" fill="#fff" fill-opacity="0.5" stroke="#1c1c1c" stroke-width="2.1"/><ellipse cx="493.4" cy="708.1" rx="7.5" ry="7.5" fill="#fff" fill-opacity="0.5" stroke="#1c1c1c" stroke-width="2.1"/><ellipse cx="482.7" cy="728.75" rx="6.1" ry="6.6" fill="#fff" fill-opacity="0.5" stroke="#1c1c1c" stroke-width="2.1"/><line x1="460.4" y1="494" x2="511.5" y2="494" stroke="#555" stroke-width="1.2"/><path d="M451.9,494 L460.4,491.7 L460.4,496.3Z M520,494 L511.5,491.7 L511.5,496.3Z" fill="#1c1c1c"/><text x="451" y="485" font-size="16.2" textLength="65.9" lengthAdjust="spacingAndGlyphs">23.6 inch</text><line x1="526" y1="512" x2="526" y2="728.6" stroke="#666" stroke-width="1.4"/><path d="M526,502.5 L523.6,512 L528.4,512Z M526,738.1 L523.6,728.6 L528.4,728.6Z" fill="#1c1c1c"/><text x="533.8" y="626.7" font-size="13.25">Can be cut shorter</text><text x="533.8" y="641.8" font-size="13.25">216.5 inch</text><path d="M472.8,741.9 L483.45,739.6 L483.45,744.2Z M495.3,741.9 L484.65,739.6 L484.65,744.2Z" fill="#1c1c1c"/><text x="457.8" y="759.7" font-size="16.33" textLength="57.2" lengthAdjust="spacingAndGlyphs">6.7 inch</text></g>
</svg>
</body></html>
